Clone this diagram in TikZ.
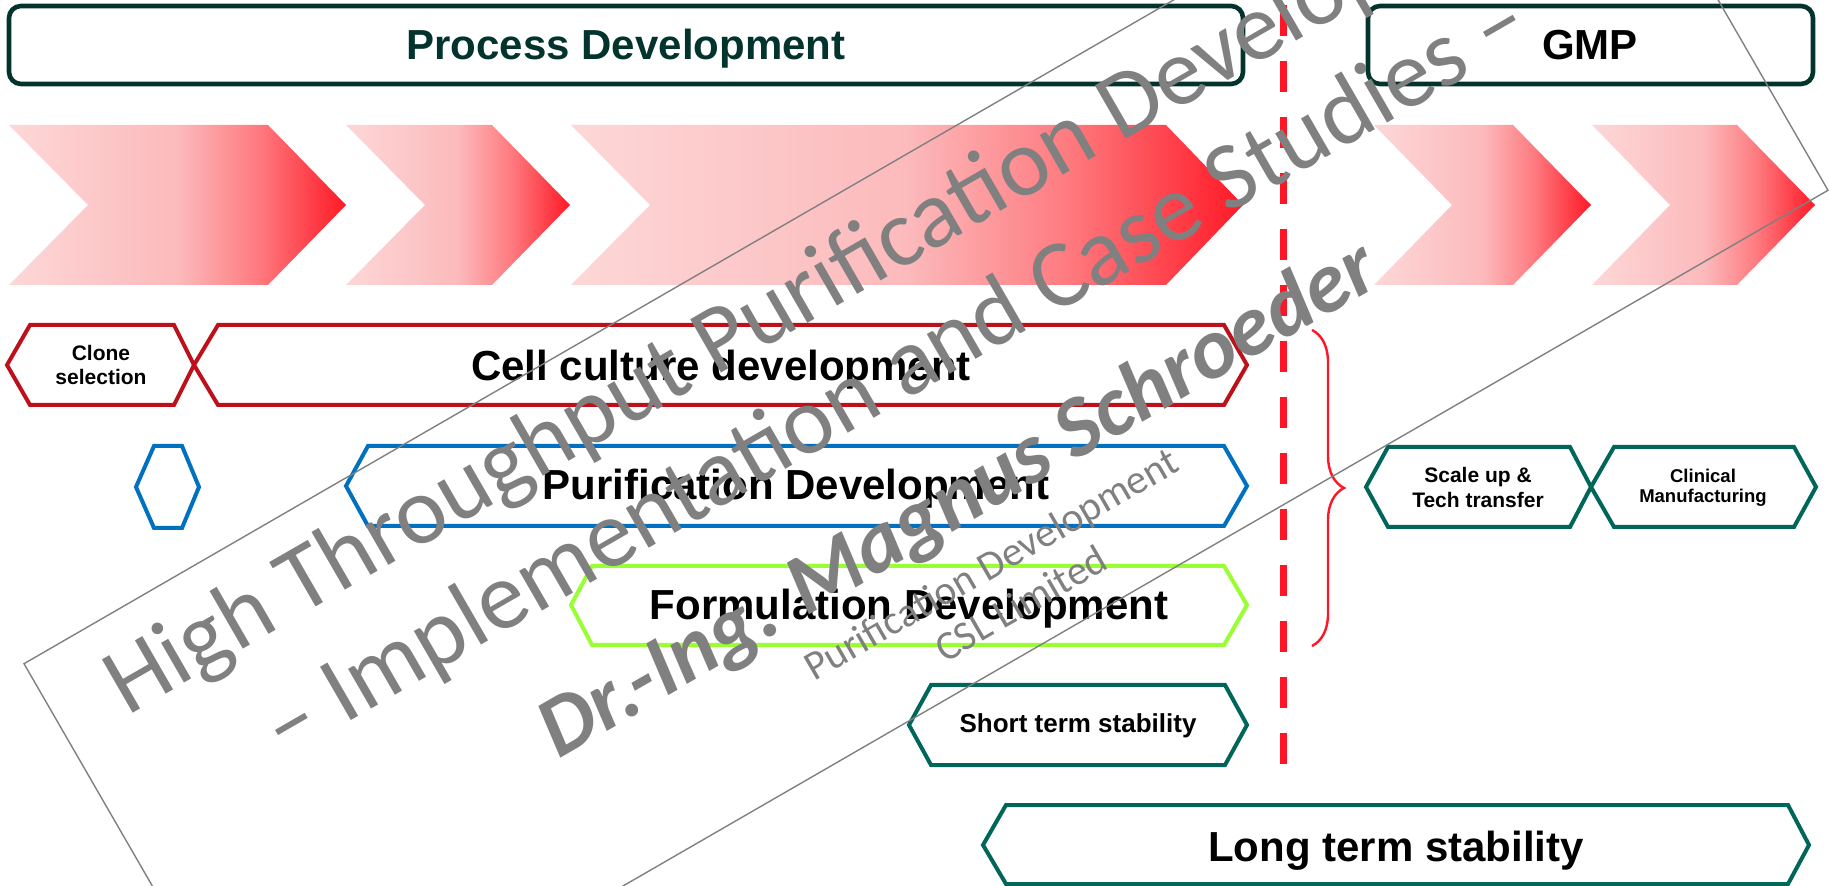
\documentclass[tikz,border=0pt]{standalone}
\usepackage{fontspec}
\setmainfont{Liberation Sans}
\newfontfamily\wmfont{Carlito}
\usetikzlibrary{decorations.pathreplacing}

\definecolor{pdgreen}{RGB}{3,51,45}
\definecolor{cellred}{RGB}{190,16,26}
\definecolor{purblue}{RGB}{0,112,192}
\definecolor{formgreen}{RGB}{153,255,51}
\definecolor{stabteal}{RGB}{0,102,90}
\definecolor{gmpred}{RGB}{255,22,38}
\definecolor{wmgray}{RGB}{128,128,128}
\definecolor{pinkA}{RGB}{253,215,215}
\definecolor{pinkB}{RGB}{252,186,188}
\definecolor{pinkC}{RGB}{254,122,127}
\definecolor{redD}{RGB}{255,25,38}
\pgfdeclarehorizontalshading{chevfade}{100bp}{color(0bp)=(pinkA); color(25bp)=(pinkA); color(50bp)=(pinkB); color(62bp)=(pinkC); color(75bp)=(redD); color(100bp)=(redD)}

\begin{document}
\begin{tikzpicture}[x=0.5pt,y=0.5pt,yscale=-1,
    phasebox/.style={draw=pdgreen,line width=2.3pt,rounded corners=6pt},
    chevron/.style={shading=chevfade},
    hexline/.style={line width=2pt,line join=miter},
    biglabel/.style={font=\bfseries\fontsize{21}{25}\selectfont,anchor=base,inner sep=0pt},
    midlabel/.style={font=\bfseries\fontsize{13}{15}\selectfont,anchor=base,inner sep=0pt},
    smalllabel/.style={font=\bfseries\fontsize{10.5}{12}\selectfont,align=center,inner sep=0pt},
    wmtext/.style={font=\wmfont\fontsize{48}{56}\selectfont,text=wmgray,anchor=base,rotate=30,inner sep=0pt},
    wmname/.style={font=\wmfont\bfseries\itshape\fontsize{43}{49}\selectfont,text=wmgray,anchor=base,rotate=30,inner sep=0pt},
    wmsmall/.style={font=\wmfont\fontsize{20.5}{25}\selectfont,text=wmgray,anchor=base,rotate=30,inner sep=0pt}]
\useasboundingbox (0,0) rectangle (1830,886);

%Shape: Rounded Rect [phase boxes]
\draw [phasebox] (9,6) rectangle (1243,84);
\draw [phasebox] (1368,6) rectangle (1813,84);
% Text Node
\node [biglabel,text=pdgreen] (pd) at (626,60) {Process Development};
\node [biglabel] (gmp) at (1590,60) {GMP};

%Shape: Chevrons
\shade [chevron] (9,125) -- (268,125) -- (346,205) -- (268,285) -- (9,285) -- (88,205) -- cycle;
\shade [chevron] (346,125) -- (492,125) -- (570,205) -- (492,285) -- (346,285) -- (425,205) -- cycle;
\shade [chevron] (571,125) -- (1166,125) -- (1243,205) -- (1166,285) -- (571,285) -- (650,205) -- cycle;
\shade [chevron] (1374,125) -- (1513,125) -- (1591,205) -- (1513,285) -- (1374,285) -- (1452,205) -- cycle;
\shade [chevron] (1592,125) -- (1737,125) -- (1815,205) -- (1737,285) -- (1592,285) -- (1670,205) -- cycle;

%Shape: Hexagons [cell culture row]
\draw [hexline,draw=cellred] (7,365) -- (30,325) -- (174,325) -- (194,365) -- (174,405) -- (30,405) -- cycle;
\draw [hexline,draw=cellred] (194,365) -- (218,325) -- (1224,325) -- (1247,365) -- (1224,405) -- (218,405) -- cycle;
\node [smalllabel] (clone) at (101,365) {Clone\\selection};
\node [biglabel] (cell) at (721,381) {Cell culture development};

%Shape: Hexagons [purification row]
\draw [hexline,draw=purblue] (136,487) -- (154,446) -- (182,446) -- (199,487) -- (182,528) -- (154,528) -- cycle;
\draw [hexline,draw=purblue] (346,486) -- (368,446) -- (1224,446) -- (1247,486) -- (1224,526) -- (368,526) -- cycle;
\node [biglabel] (puri) at (796,500) {Purification Development};

%Shape: Hexagon [formulation row]
\draw [hexline,draw=formgreen] (571,605) -- (592,566) -- (1224,566) -- (1247,605) -- (1224,645) -- (592,645) -- cycle;
\node [biglabel] (form) at (909,620) {Formulation Development};

%Shape: Hexagons [stability rows]
\draw [hexline,draw=stabteal] (909,725) -- (931,685) -- (1225,685) -- (1247,725) -- (1225,765) -- (931,765) -- cycle;
\node [midlabel] (short) at (1078,733) {Short term stability};
\draw [hexline,draw=stabteal] (983,845) -- (1006,805) -- (1788,805) -- (1809,845) -- (1788,884) -- (1006,884) -- cycle;
\node [biglabel] (long) at (1396,861) {Long term stability};

%Shape: Hexagons [GMP row]
\draw [hexline,draw=stabteal] (1366,487) -- (1388,447) -- (1570,447) -- (1591,487) -- (1570,527) -- (1388,527) -- cycle;
\draw [hexline,draw=stabteal] (1591,487) -- (1614,447) -- (1794,447) -- (1816,487) -- (1794,527) -- (1614,527) -- cycle;
\node [smalllabel,font=\bfseries\fontsize{10.5}{12.5}\selectfont] (scale) at (1478,487) {Scale up \&\\Tech transfer};
\node [smalllabel,font=\bfseries\fontsize{9.25}{10}\selectfont] (clin) at (1703,488) {Clinical\\Manufacturing};

%Straight Lines [gate]
\draw [color=gmpred,line width=3.5pt,dash pattern={on 15.5pt off 12.5pt}] (1283,5) -- (1283,765);
%Brace
\coordinate (brtop) at (1312,330);
\coordinate (brbot) at (1312,646);
\draw [color=gmpred,line width=1.2pt,decorate,decoration={brace,amplitude=16pt}] (brtop) -- (brbot);

% Watermark
\begin{scope}[shift={(926,427)},rotate=-30]
\draw [wmgray,line width=0.7pt] (-899.5,-246) rectangle (899.5,246);
\node [wmtext] (wm1) at (0,-149) {High Throughput Purification Development};
\node [wmtext] (wm2) at (0,-33) {– Implementation and Case Studies –};
\node [wmname] (wm3) at (-8,104) {Dr.-Ing. Magnus Schroeder};
\node [wmsmall] (wm4) at (-12,165) {Purification Development};
\node [wmsmall] (wm5) at (-6,214) {CSL Limited};
\end{scope}

\end{tikzpicture}
\end{document}
